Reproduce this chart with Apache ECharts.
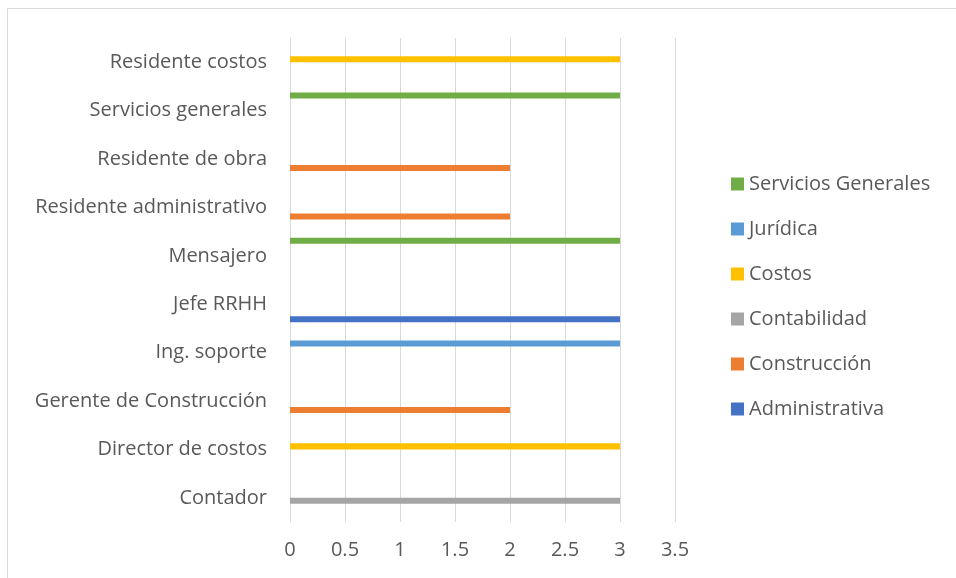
<!DOCTYPE html>
<html>
<head>
<meta charset="utf-8">
<script src="https://cdn.jsdelivr.net/npm/echarts@6/dist/echarts.min.js"></script>
<style>
  html, body { margin: 0; padding: 0; background: #fff; }
  #chart { width: 956px; height: 578px; }
</style>
</head>
<body>
<div id="chart"></div>
<script>
// Positions (bottom to top on the category axis)
const categories = [
  'Contador',
  'Director de costos',
  'Gerente de Construcción',
  'Ing. soporte',
  'Jefe RRHH',
  'Mensajero',
  'Residente administrativo',
  'Residente de obra',
  'Servicios generales',
  'Residente costos'
];

const seriesNames = ['Administrativa', 'Construcción', 'Contabilidad', 'Costos', 'Jurídica', 'Servicios Generales'];

// One value per position; null where the area has no entry
const administrativa     = [null, null, null, null, 3, null, null, null, null, null];
const construccion       = [null, null, 2, null, null, null, 2, 2, null, null];
const contabilidad       = [3, null, null, null, null, null, null, null, null, null];
const costos             = [null, 3, null, null, null, null, null, null, null, 3];
const juridica           = [null, null, null, 3, null, null, null, null, null, null];
const serviciosGenerales = [null, null, null, null, null, 3, null, null, 3, null];

const xTicks = [0, 0.5, 1, 1.5, 2, 2.5, 3, 3.5];

const seriesValues = [administrativa, construccion, contabilidad, costos, juridica, serviciosGenerales];
const colors = ['#4472C4', '#ED7D31', '#A5A5A5', '#FFC000', '#5B9BD5', '#70AD47'];

const fontFamily = '"Open Sans", sans-serif';
const fontSize = 20;
const textColor = '#595959';

// Bars in a horizontal cluster are laid out top-down in series order,
// so the series are added last-first to put Administrativa at the bottom.
const order = seriesNames.map((_, i) => i).reverse();

const chart = echarts.init(document.getElementById('chart'), null, { renderer: 'canvas' });

chart.setOption({
  animation: false,
  backgroundColor: '#ffffff',
  graphic: [{
    type: 'rect',
    shape: { x: 7.5, y: 8.5, width: 1000, height: 700 },
    style: { fill: 'none', stroke: '#d9d9d9', lineWidth: 1 },
    silent: true
  }],
  grid: { left: 290, right: 281, top: 38, bottom: 56, containLabel: false },
  legend: {
    orient: 'vertical',
    left: 726,
    top: 169,
    itemWidth: 13,
    itemHeight: 13,
    itemGap: 25,
    icon: 'rect',
    data: seriesNames.slice().reverse(),
    textStyle: { fontFamily: fontFamily, fontSize: fontSize, color: textColor }
  },
  xAxis: {
    type: 'value',
    min: xTicks[0],
    max: xTicks[xTicks.length - 1],
    interval: 0.5,
    axisLine: { show: false },
    axisTick: { show: false },
    splitLine: { show: true, lineStyle: { color: '#d9d9d9', width: 1 } },
    axisLabel: {
      fontFamily: fontFamily, fontSize: fontSize, color: textColor, margin: 18,
      formatter: v => String(v)
    }
  },
  yAxis: {
    type: 'category',
    data: categories,
    axisLine: { show: false },
    axisTick: { show: false },
    splitLine: { show: false },
    axisLabel: { fontFamily: fontFamily, fontSize: fontSize, color: textColor, margin: 23 }
  },
  series: order.map(i => ({
    name: seriesNames[i],
    type: 'bar',
    data: seriesValues[i],
    barGap: '0%',
    barCategoryGap: '25%',
    itemStyle: { color: colors[i] }
  }))
});
</script>
</body>
</html>
